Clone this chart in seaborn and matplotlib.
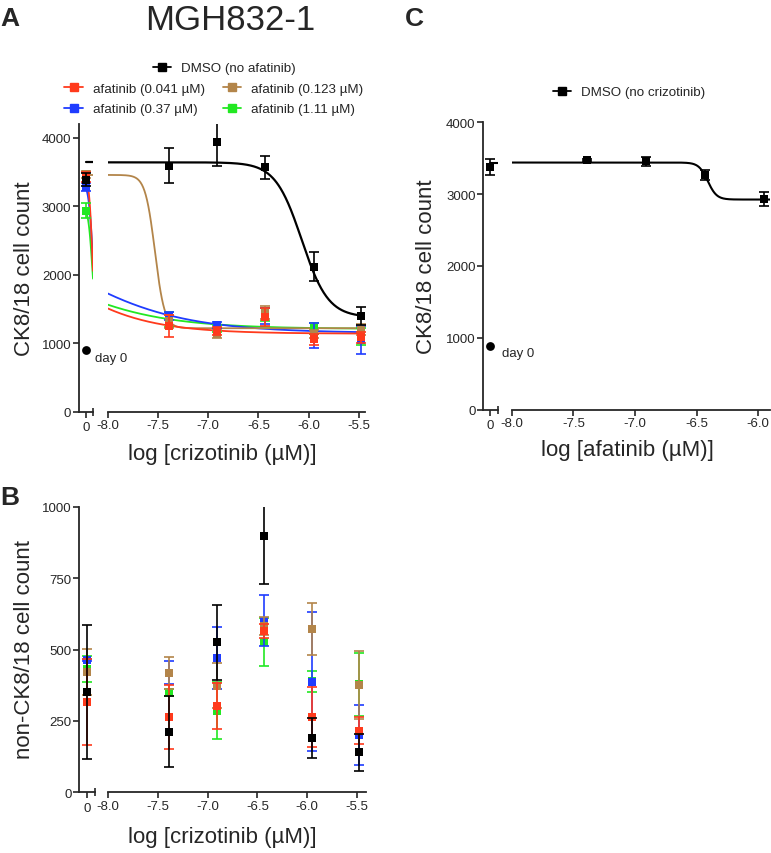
import numpy as np
import pandas as pd
import matplotlib
matplotlib.use("Agg")
import matplotlib.pyplot as plt
from matplotlib.lines import Line2D
import seaborn as sns

sns.set_style("ticks")
plt.rcParams['font.family'] = ['Liberation Sans', 'DejaVu Sans']
plt.rcParams['axes.unicode_minus'] = False

W, H = 771, 854

# ---- data ----
series = ['DMSO (no afatinib)', 'afatinib (0.041 µM)', 'afatinib (0.123 µM)',
          'afatinib (0.37 µM)', 'afatinib (1.11 µM)']
colors = ['#000000', '#ff3a1c', '#b3854a', '#1f3cff', '#22e822']
log_crizo = [-7.39, -6.91, -6.43, -5.95, -5.48]
log_afa = [-7.39, -6.91, -6.43, -5.95]
ticks_crizo = [-8.0, -7.5, -7.0, -6.5, -6.0, -5.5]
ticks_afa = [-8.0, -7.5, -7.0, -6.5, -6.0]

# A: CK8/18 cell count vs crizotinib
a_ctrl = [3391, 3430, 3470, 3279, 2938]
a_ctrl_err = [95, 80, 50, 60, 110]
a_dmso = [3596, 3946, 3571, 2119, 1403]
a_dmso_err = [260, 350, 170, 210, 130]
a_041 = [1250, 1175, 1380, 1062, 1086]
a_041_err = [160, 60, 130, 80, 80]
a_123 = [1320, 1140, 1450, 1140, 1200]
a_123_err = [100, 60, 100, 60, 80]
a_37 = [1400, 1265, 1400, 1110, 1050]
a_37_err = [60, 40, 120, 185, 205]
a_111 = [1350, 1220, 1420, 1220, 1100]
a_111_err = [110, 50, 100, 80, 120]
# fitted 4PL parameters (top, bottom, logEC50, hill) per series
fit_top = [3644, 3450, 3460, 3350, 3000]
fit_bottom = [1380, 1140, 1220, 1150, 1210]
fit_logec50 = [-6.07, -8.80, -7.53, -8.64, -8.81]
fit_hill = [3.3, 0.9, 9.0, 0.7, 0.75]
day0_a = 901

# B: non-CK8/18 cell count vs crizotinib
b_ctrl = [351, 316, 421, 463, 432]
b_ctrl_err = [235, 150, 82, 5, 45]
b_dmso = [212, 525, 898, 189, 140]
b_dmso_err = [125, 131, 170, 70, 64]
b_041 = [263, 301, 566, 263, 216]
b_041_err = [112, 80, 25, 105, 47]
b_123 = [418, 373, 583, 572, 376]
b_123_err = [55, 79, 32, 91, 120]
b_37 = [418, 470, 601, 387, 201]
b_37_err = [40, 110, 90, 243, 104]
b_111 = [350, 286, 527, 388, 378]
b_111_err = [12, 99, 84, 36, 110]

# C: CK8/18 cell count vs afatinib (no crizotinib)
c_ctrl = 3373
c_ctrl_err = 110
c_dmso = [3475, 3457, 3267, 2932]
c_dmso_err = [20, 60, 70, 100]
c_fit = [3440, 2925, -6.41, 12.0]
day0_c = 891

# position of the "0" (no drug) group on the short left axis segment
X0, XR = -10.7, -8.6


def logistic(x, top, bottom, logec50, hill):
    return bottom + (top - bottom) / (1 + 10 ** ((x - logec50) * hill))


def box(x0, y0, x1, y1):
    return [x0 / W, 1 - y1 / H, (x1 - x0) / W, (y1 - y0) / H]


def style_left(ax, frac, ylim, yticks):
    ax.set_xlim(X0 - frac / (1 - frac) * (XR - X0), XR)
    ax.set_ylim(*ylim)
    ax.set_yticks(yticks)
    ax.set_yticklabels([str(t) for t in yticks])
    ax.set_xticks([X0])
    ax.set_xticklabels(['0'])
    ax.set_xticks([XR], minor=True)
    sns.despine(ax=ax)
    for s in ['left', 'bottom']:
        ax.spines[s].set_linewidth(1.3)
    ax.tick_params(which='major', direction='out', length=4, width=1.2, labelsize=9.5, pad=1.5)
    ax.tick_params(axis='x', which='major', pad=3)
    ax.tick_params(axis='x', which='minor', direction='inout', length=6, width=1.2)
    ax.set_xlabel('')
    ax.set_ylabel('')
    ax.patch.set_alpha(0)


def style_main(ax, xlim, xticks, ylim):
    ax.set_xlim(*xlim)
    ax.set_ylim(*ylim)
    ax.set_xticks(xticks)
    ax.set_xticklabels([f'{t:.1f}' for t in xticks])
    ax.set_xticks([xlim[0]], minor=True)
    ax.set_yticks([])
    sns.despine(ax=ax, left=True)
    ax.spines['bottom'].set_linewidth(1.3)
    ax.tick_params(which='major', direction='out', length=4, width=1.2, labelsize=9.5, pad=1.5)
    ax.tick_params(axis='x', which='minor', direction='inout', length=6, width=1.2)
    ax.set_xlabel('')
    ax.set_ylabel('')
    ax.patch.set_alpha(0)


def draw_points(ax, xs, ys, errs, color, z):
    ax.errorbar(xs, ys, yerr=errs, fmt='none', ecolor=color, elinewidth=1.2,
                capsize=3.5, capthick=1.2, zorder=z)
    sns.scatterplot(x=xs, y=ys, color=color, marker='s', s=34, linewidth=0,
                    ax=ax, zorder=z + 0.5, legend=False)


fig = plt.figure(figsize=(W / 100, H / 100), dpi=100)
draw_order = [4, 3, 2, 1, 0]

# ---------------- Panel A ----------------
axA0 = fig.add_axes(box(79, 125.3, 93, 412.7))
axA1 = fig.add_axes(box(107.7, 125.3, 365, 412.7))
a_vals = [a_dmso, a_041, a_123, a_37, a_111]
a_errs = [a_dmso_err, a_041_err, a_123_err, a_37_err, a_111_err]
xlimA = (-8.0, -5.44)

rows = []
grid_main = np.linspace(xlimA[0], xlimA[1], 400)
grid_left = np.linspace(X0, XR, 60)
for i, name in enumerate(series):
    p = (fit_top[i], fit_bottom[i], fit_logec50[i], fit_hill[i])
    for seg, g in [('left', grid_left), ('main', grid_main)]:
        rows.append(pd.DataFrame({'x': g, 'y': logistic(g, *p), 'series': name, 'seg': seg}))
curvesA = pd.concat(rows, ignore_index=True)

for k, i in enumerate(draw_order):
    name = series[i]
    for ax, seg in [(axA0, 'left'), (axA1, 'main')]:
        d = curvesA[(curvesA.series == name) & (curvesA.seg == seg)]
        sns.lineplot(data=d, x='x', y='y', color=colors[i], ax=ax, estimator=None,
                     sort=False, linewidth=1.6 if i == 0 else 1.3, zorder=2 + k, legend=False)
    draw_points(axA1, log_crizo, a_vals[i], a_errs[i], colors[i], 10 + k)
    draw_points(axA0, [X0], [a_ctrl[i]], [a_ctrl_err[i]], colors[i], 10 + k)
sns.scatterplot(x=[X0], y=[day0_a], color='black', marker='o', s=40, linewidth=0,
                ax=axA0, zorder=30, legend=False)
style_left(axA0, 6.7 / 14, (0, 4200), [0, 1000, 2000, 3000, 4000])
style_main(axA1, xlimA, ticks_crizo, (0, 4200))
fig.text(95 / W, 1 - 359 / H, 'day 0', fontsize=9.5, va='center', ha='left')

# ---------------- Panel B ----------------
axB0 = fig.add_axes(box(79.3, 507.7, 95, 793.3))
axB1 = fig.add_axes(box(108.3, 507.7, 365.7, 793.3))
b_vals = [b_dmso, b_041, b_123, b_37, b_111]
b_errs = [b_dmso_err, b_041_err, b_123_err, b_37_err, b_111_err]
for k, i in enumerate(draw_order):
    draw_points(axB1, log_crizo, b_vals[i], b_errs[i], colors[i], 10 + k)
    draw_points(axB0, [X0], [b_ctrl[i]], [b_ctrl_err[i]], colors[i], 10 + k)
style_left(axB0, 7.4 / 15.7, (0, 1000), [0, 250, 500, 750, 1000])
style_main(axB1, (-8.0, -5.41), ticks_crizo, (0, 1000))

# ---------------- Panel C ----------------
axC0 = fig.add_axes(box(483.3, 123.3, 498.3, 410.7))
axC1 = fig.add_axes(box(511.7, 123.3, 770, 410.7))
xlimC = (-8.0, -5.905)
gC = np.linspace(xlimC[0], xlimC[1], 400)
gL = np.linspace(X0, XR, 40)
sns.lineplot(x=gC, y=logistic(gC, *c_fit), color='black', linewidth=1.5, ax=axC1,
             estimator=None, sort=False, legend=False)
sns.lineplot(x=gL, y=logistic(gL, *c_fit), color='black', linewidth=1.5, ax=axC0,
             estimator=None, sort=False, legend=False)
draw_points(axC1, log_afa, c_dmso, c_dmso_err, 'black', 10)
draw_points(axC0, [X0], [c_ctrl], [c_ctrl_err], 'black', 10)
sns.scatterplot(x=[X0], y=[day0_c], color='black', marker='o', s=40, linewidth=0,
                ax=axC0, zorder=30, legend=False)
style_left(axC0, 6.7 / 15, (0, 4000), [0, 1000, 2000, 3000, 4000])
style_main(axC1, xlimC, ticks_afa, (0, 4000))
fig.text(501.7 / W, 1 - 354 / H, 'day 0', fontsize=9.5, va='center', ha='left')

# ---------------- labels ----------------
lab = 16
fig.text(222 / W, 1 - 455 / H, 'log [crizotinib (µM)]', fontsize=lab, ha='center', va='center')
fig.text(222 / W, 1 - 838 / H, 'log [crizotinib (µM)]', fontsize=lab, ha='center', va='center')
fig.text(627 / W, 1 - 451 / H, 'log [afatinib (µM)]', fontsize=lab, ha='center', va='center')
fig.text(25 / W, 1 - 269 / H, 'CK8/18 cell count', fontsize=lab, rotation=90, ha='center', va='center')
fig.text(25 / W, 1 - 650 / H, 'non-CK8/18 cell count', fontsize=lab, rotation=90, ha='center', va='center')
fig.text(426 / W, 1 - 267 / H, 'CK8/18 cell count', fontsize=lab, rotation=90, ha='center', va='center')

fig.text(230 / W, 1 - 21 / H, 'MGH832-1', fontsize=25, ha='center', va='center')
fig.text(0 / W, 1 - 19 / H, 'A', fontsize=19, fontweight='bold', ha='left', va='center')
fig.text(0 / W, 1 - 498 / H, 'B', fontsize=19, fontweight='bold', ha='left', va='center')
fig.text(405 / W, 1 - 19 / H, 'C', fontsize=19, fontweight='bold', ha='left', va='center')

# ---------------- legends ----------------
def handle(c):
    return Line2D([], [], color=c, marker='s', markersize=5.5, linewidth=1.3)

leg_kw = dict(loc='center', frameon=False, fontsize=9.6, handlelength=1.4,
              handletextpad=0.75, borderpad=0, borderaxespad=0, labelspacing=0.6,
              columnspacing=1.3)
fig.legend(handles=[handle(colors[0])], labels=[series[0]],
           bbox_to_anchor=(224.5 / W, 1 - 69 / H), **leg_kw)
fig.legend(handles=[handle(colors[1]), handle(colors[3]), handle(colors[2]), handle(colors[4])],
           labels=[series[1], series[3], series[2], series[4]], ncol=2,
           bbox_to_anchor=(214 / W, 1 - 100 / H), **leg_kw)
fig.legend(handles=[handle('black')], labels=['DMSO (no crizotinib)'],
           bbox_to_anchor=(629 / W, 1 - 93.3 / H), **leg_kw)

fig.savefig('out.png', dpi=100)
